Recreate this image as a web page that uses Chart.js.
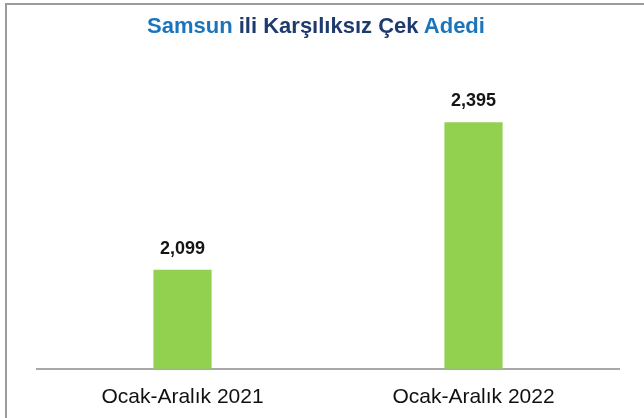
<!DOCTYPE html>
<html>
<head>
<meta charset="utf-8">
<script src="https://cdn.jsdelivr.net/npm/chart.js@4/dist/chart.umd.min.js"></script>
<style>
  html, body { margin: 0; padding: 0; background: #fff; }
  #wrap { position: relative; width: 644px; height: 418px; overflow: hidden; }
  #frame {
    position: absolute; left: 5px; top: 3px; width: 700px; height: 500px;
    border: 2px solid #9c9c9c; box-sizing: border-box;
  }
  #title {
    position: absolute; left: 0; top: 13px; width: 632px; text-align: center;
    font: bold 22px "Liberation Sans", Arial, sans-serif; color: #1f3a6e;
  }
  #title .hl { color: #1b75bc; }
  #chart { position: absolute; left: 0; top: 0; }
</style>
</head>
<body>
<div id="wrap">
  <div id="frame"></div>
  <canvas id="chart" width="644" height="426"></canvas>
  <div id="title"><span class="hl">Samsun</span> ili Karşılıksız Çek <span class="hl">Adedi</span></div>
</div>
<script>
const periods = ['Ocak-Aralık 2021', 'Ocak-Aralık 2022'];
const chequeCounts = [2099, 2395];

// value labels above each bar, e.g. "2,099"
const barValues = {
  id: 'barValues',
  afterDatasetsDraw(chart) {
    const { ctx } = chart;
    const meta = chart.getDatasetMeta(0);
    ctx.save();
    ctx.font = 'bold 18px "Liberation Sans", Arial, sans-serif';
    ctx.fillStyle = '#151515';
    ctx.textAlign = 'center';
    ctx.textBaseline = 'alphabetic';
    meta.data.forEach((bar, i) => {
      const v = chart.data.datasets[0].data[i];
      ctx.fillText(v.toLocaleString('en-US'), bar.x, bar.y - 16);
    });
    ctx.restore();
  }
};

new Chart(document.getElementById('chart'), {
  type: 'bar',
  data: {
    labels: periods,
    datasets: [{
      data: chequeCounts,
      backgroundColor: '#92d050',
      categoryPercentage: 0.4,
      barPercentage: 0.5
    }]
  },
  options: {
    responsive: false,
    animation: false,
    layout: { padding: { top: 70, left: 37, right: 25, bottom: 0 } },
    plugins: { legend: { display: false }, title: { display: false }, tooltip: { enabled: false } },
    scales: {
      x: {
        grid: { display: false, drawTicks: false, tickLength: 0 },
        border: { display: true, color: '#a8a8a8', width: 2 },
        ticks: {
          color: '#111',
          padding: 16,
          font: { family: '"Liberation Sans", Arial, sans-serif', size: 21 }
        }
      },
      y: {
        display: false,
        min: 1900,
        max: 2500
      }
    }
  },
  plugins: [barValues]
});
</script>
</body>
</html>
